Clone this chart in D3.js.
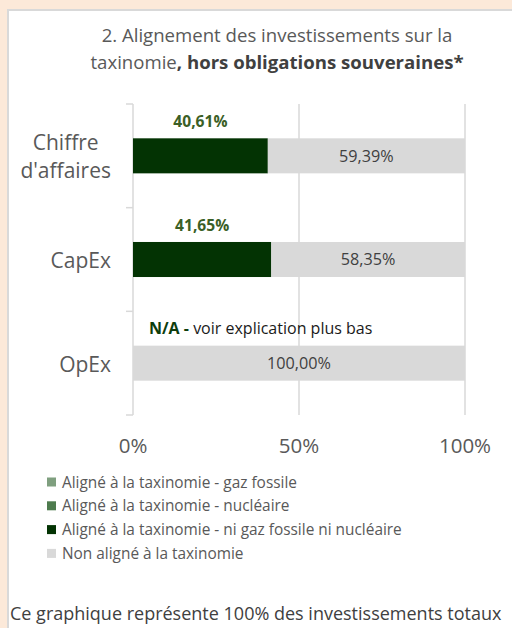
<!DOCTYPE html>
<html>
<head>
<meta charset="utf-8">
<script src="https://cdn.jsdelivr.net/npm/d3@7"></script>
<style>
  html, body { margin: 0; padding: 0; background: #fce9d9; }
  svg { display: block; font-family: "Open Sans", Lato, sans-serif; }
</style>
</head>
<body>
<div id="chart"></div>
<script>
// chart values
const categories = ["Chiffre d'affaires", "CapEx", "OpEx"]
const gazFossile = [0, 0, 0]
const nucleaire = [0, 0, 0]
const niGazNiNucleaire = [40.61, 41.65, 0]
const nonAligne = [59.39, 58.35, 100]
const xTicks = [0, 50, 100]
const seriesNames = [
    "Aligné à la taxinomie - gaz fossile",
    "Aligné à la taxinomie - nucléaire",
    "Aligné à la taxinomie - ni gaz fossile ni nucléaire",
    "Non aligné à la taxinomie"
]
const seriesKeys = ["gaz", "nucl", "ni", "non"]
const seriesColors = ["#7f9f7f", "#4e7b4e", "#033303", "#d9d9d9"]
const naNote = "voir explication plus bas"

const width = 512, height = 628
const fmt = v => v.toFixed(2).replace(".", ",") + "%"

// table for d3.stack built from the arrays above
const rows = categories.map((c, i) => ({
    cat: c, gaz: gazFossile[i], nucl: nucleaire[i], ni: niGazNiNucleaire[i], non: nonAligne[i]
}))
const stacked = d3.stack().keys(seriesKeys)(rows)

const svg = d3.select('#chart')
    .append('svg')
        .attr('width', width)
        .attr('height', height)

// panel
svg.append('rect').attr('x', 0).attr('y', 0).attr('width', width).attr('height', height).attr('fill', '#fce9d9')
svg.append('rect').attr('x', 8).attr('y', 10).attr('width', width - 8).attr('height', height - 10).attr('fill', '#ffffff')
svg.append('path').attr('d', 'M8,628V10H512').attr('fill', 'none').attr('stroke', '#d9d9d9').attr('stroke-width', 2)

// title
const title = svg.append('text').attr('text-anchor', 'middle').attr('font-size', 18.6).attr('fill', '#595959')
title.append('tspan').attr('x', 277).attr('y', 42).text('2. Alignement des investissements sur la')
const t2 = title.append('tspan').attr('x', 277).attr('y', 69)
t2.append('tspan').text('taxinomie')
t2.append('tspan').attr('font-weight', 'bold').attr('fill', '#404040').text(', hors obligations souveraines*')

const xScale = d3.scaleLinear().domain([0, 100]).range([133, 465])
const yScale = d3.scaleBand().domain(categories).range([104, 415]).paddingInner(0.662).paddingOuter(0.331)

// gridlines
svg.append('g').selectAll('line')
    .data(xTicks.slice(1))
    .join('line')
        .attr('x1', d => xScale(d)).attr('x2', d => xScale(d))
        .attr('y1', 104).attr('y2', 415)
        .attr('stroke', '#d9d9d9').attr('stroke-width', 1.5)

// y axis with ticks at band boundaries
const bounds = categories.map(c => yScale(c) - yScale.step() * yScale.paddingInner() / 2)
bounds.push(415)
svg.append('line').attr('x1', xScale(0)).attr('x2', xScale(0)).attr('y1', 104).attr('y2', 415)
    .attr('stroke', '#d9d9d9').attr('stroke-width', 1.5)
svg.append('g').selectAll('line')
    .data(bounds)
    .join('line')
        .attr('x1', xScale(0) - 7).attr('x2', xScale(0))
        .attr('y1', d => d).attr('y2', d => d)
        .attr('stroke', '#d9d9d9').attr('stroke-width', 1.5)

// bars
svg.append('g').selectAll('g')
    .data(stacked)
    .join('g')
        .attr('fill', (d, i) => seriesColors[i])
    .selectAll('rect')
    .data(d => d)
    .join('rect')
        .attr('x', d => xScale(d[0]))
        .attr('y', d => yScale(d.data.cat))
        .attr('width', d => xScale(d[1]) - xScale(d[0]))
        .attr('height', yScale.bandwidth())

// labels for aligned share (above green bar)
const niLayer = stacked[2]
svg.append('g').selectAll('text')
    .data(niLayer.filter(d => d[1] - d[0] > 0))
    .join('text')
        .attr('x', d => xScale((d[0] + d[1]) / 2))
        .attr('y', d => yScale(d.data.cat) - 11)
        .attr('text-anchor', 'middle')
        .attr('font-size', 15.6).attr('font-weight', 'bold').attr('fill', '#3b5f26')
        .text(d => fmt(d[1] - d[0]))

// N/A note for rows without aligned share
const naText = svg.append('g').selectAll('text')
    .data(niLayer.filter(d => d[1] - d[0] === 0))
    .join('text')
        .attr('x', xScale(0) + 16)
        .attr('y', d => yScale(d.data.cat) - 12)
        .attr('font-size', 16).attr('fill', '#1a1a1a')
naText.append('tspan').attr('font-weight', 'bold').attr('fill', '#0d3d0d').text('N/A - ')
naText.append('tspan').text(naNote)

// non-aligned labels inside grey bar
const nonLayer = stacked[3]
svg.append('g').selectAll('text')
    .data(nonLayer)
    .join('text')
        .attr('x', d => xScale((d[0] + d[1]) / 2))
        .attr('y', d => yScale(d.data.cat) + yScale.bandwidth() / 2 + 5.8)
        .attr('text-anchor', 'middle')
        .attr('font-size', 16.2).attr('fill', '#404040')
        .text(d => fmt(d[1] - d[0]))

// category labels
const catLabels = svg.append('g').selectAll('text')
    .data(categories)
    .join('text')
        .attr('text-anchor', 'middle')
        .attr('font-size', 21).attr('fill', '#595959')
catLabels.each(function (c) {
    const words = c.split(' ')
    const lines = words.length > 1 ? words : [c]
    const cy = yScale(c) + yScale.bandwidth() / 2
    const el = d3.select(this)
    lines.forEach((l, i) => {
        el.append('tspan')
            .attr('x', 0)
            .attr('y', cy + 8.5 + (i - (lines.length - 1) / 2) * 28)
            .text(l)
    })
    const w = this.getBBox().width
    el.selectAll('tspan').attr('x', 111 - w / 2)
})

// x axis labels
svg.append('g').selectAll('text')
    .data(xTicks)
    .join('text')
        .attr('x', d => xScale(d))
        .attr('y', 453)
        .attr('text-anchor', 'middle')
        .attr('font-size', 20.5).attr('fill', '#595959')
        .text(d => d + '%')

// legend
const legend = svg.append('g').selectAll('g')
    .data(seriesNames)
    .join('g')
        .attr('transform', (d, i) => `translate(47, ${482 + i * 23.8})`)
legend.append('rect').attr('x', 0).attr('y', -4.5).attr('width', 9).attr('height', 9)
    .attr('fill', (d, i) => seriesColors[i])
legend.append('text').attr('x', 15).attr('y', 5.5).attr('font-size', 15.4).attr('fill', '#595959')
    .text(d => d)

// footer
svg.append('text').attr('x', 10).attr('y', 619.5).attr('font-size', 18).attr('fill', '#404040')
    .text('Ce graphique représente 100% des investissements totaux')
</script>
</body>
</html>
